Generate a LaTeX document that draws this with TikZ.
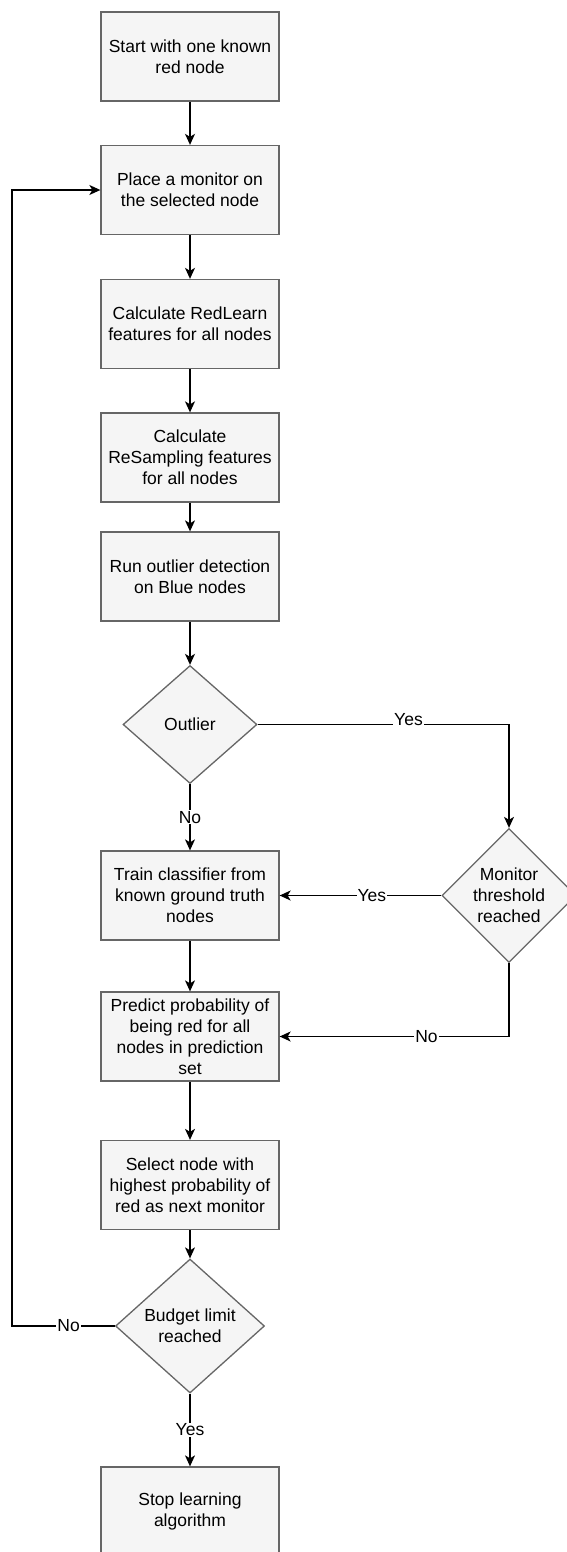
\documentclass[tikz,border=0pt]{standalone}
\usepackage{fontspec}
\setmainfont{Liberation Sans}
\usetikzlibrary{shapes.geometric,arrows.meta}
\definecolor{boxfill}{HTML}{F5F5F5}
\definecolor{boxline}{HTML}{666666}

\begin{document}
\begin{tikzpicture}[x=1pt,y=-1pt,
	every node/.style={font=\fontsize{17.5}{21}\selectfont},
	box/.style={draw=boxline,fill=boxfill,line width=1.3pt,minimum width=178pt,minimum height=89pt,align=center,inner sep=0pt},
	decision/.style={diamond,draw=boxline,fill=boxfill,line width=1.3pt,align=center,inner sep=-8pt},
	flow/.style={line width=1.3pt,-{Stealth[length=11pt,width=10pt,inset=3pt]}},
	answer/.style={fill=white,inner sep=1pt}]
		\useasboundingbox (0,0) rectangle (567,1552);
		
		\node[box] (start) at (190,56.5) {Start with one known\\red node};
		\node[box] (place) at (190,190) {Place a monitor on\\the selected node};
		\node[box] (redlearn) at (190,324) {Calculate RedLearn\\features for all nodes};
		\node[box] (resample) at (190,457.5) {Calculate\\ReSampling features\\for all nodes};
		\node[box] (detect) at (190,576.5) {Run outlier detection\\on Blue nodes};
		\node[decision,minimum width=134pt,minimum height=118pt] (outlier) at (190,724.5) {Outlier};
		\node[box] (train) at (190,895.5) {Train classifier from\\known ground truth\\nodes};
		\node[decision,minimum width=134pt,minimum height=134pt] (monitor) at (509,895.5) {Monitor\\threshold\\reached};
		\node[box] (predict) at (190,1036.5) {Predict probability of\\being red for all\\nodes in prediction\\set};
		\node[box] (select) at (190,1185) {Select node with\\highest probability of\\red as next monitor};
		\node[decision,minimum width=149pt,minimum height=134pt] (budget) at (190,1326) {Budget limit\\reached};
		\node[box] (stop) at (190,1511.5) {Stop learning\\algorithm};
		
		\coordinate (back) at (12,1326);
		
		\draw[flow] (start) -- (place);
		\draw[flow] (place) -- (redlearn);
		\draw[flow] (redlearn) -- (resample);
		\draw[flow] (resample) -- (detect);
		\draw[flow] (detect) -- (outlier);
		\draw[flow] (outlier.east) -| node[answer,pos=0.3,yshift=5pt]{Yes} (monitor.north);
		\draw[flow] (outlier) -- node[answer]{No} (train);
		\draw[flow] (monitor) -- node[answer,pos=0.43]{Yes} (train);
		\draw[flow] (monitor.south) |- node[answer,pos=0.68]{No} (predict.east);
		\draw[flow] (train) -- (predict);
		\draw[flow] (predict) -- (select);
		\draw[flow] (select) -- (budget);
		\draw[flow] (budget.west) -- node[answer,pos=0.45]{No} (back) |- (place.west);
		\draw[flow] (budget) -- node[answer]{Yes} (stop);
		
	\end{tikzpicture}
\end{document}
